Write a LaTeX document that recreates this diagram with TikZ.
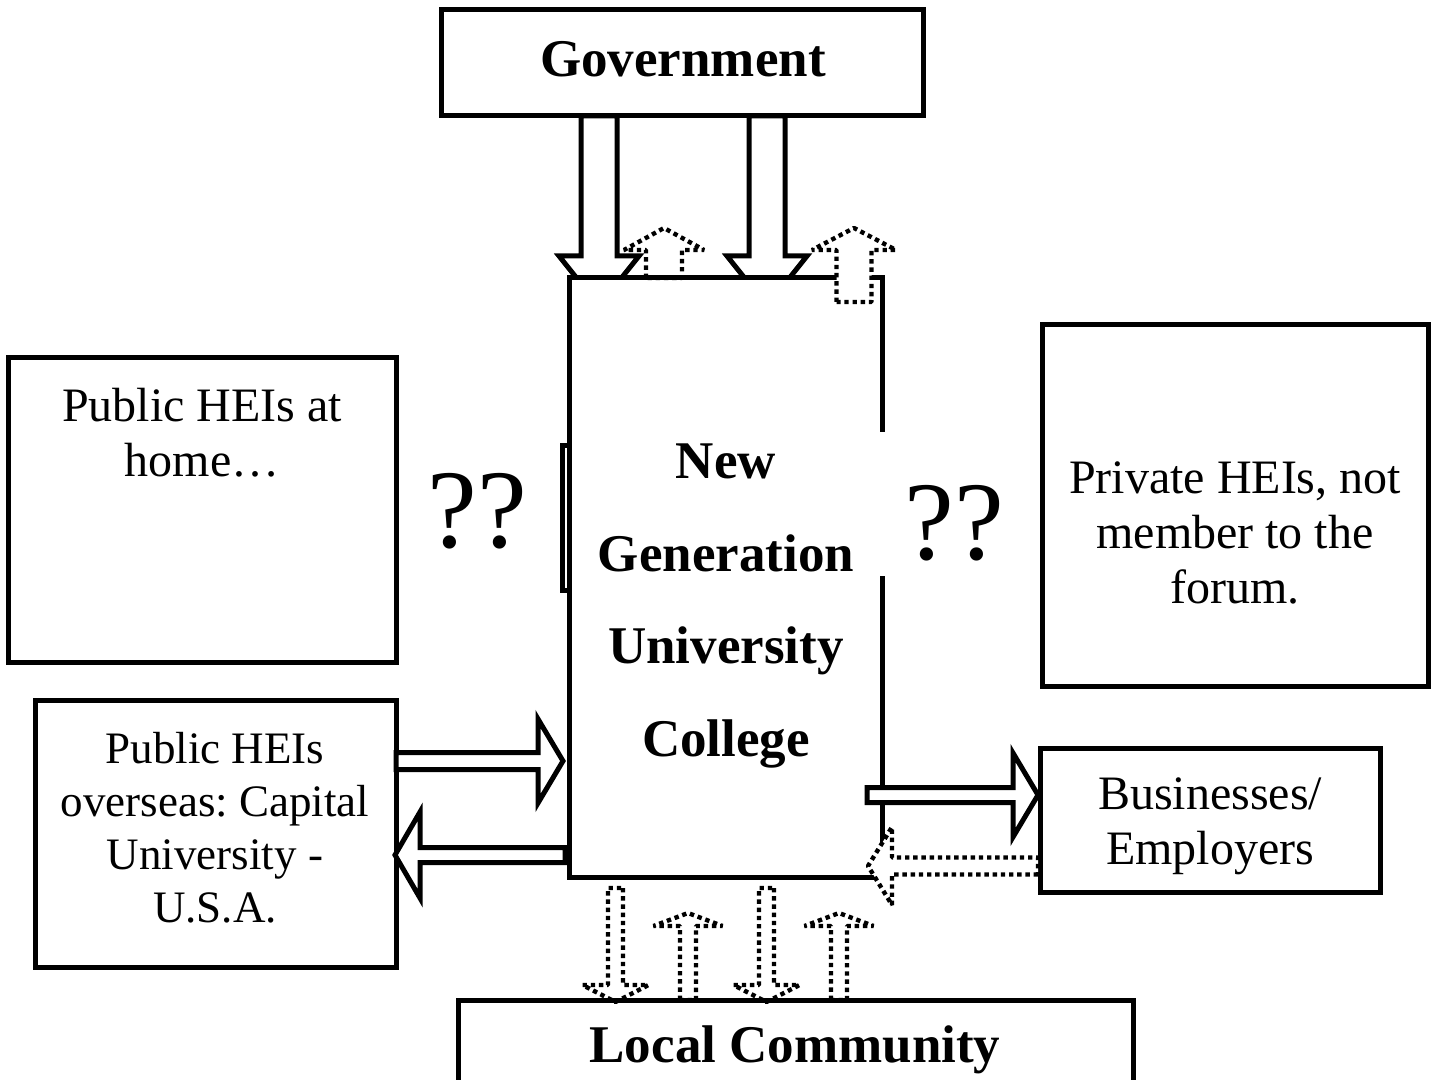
\documentclass[tikz,border=0pt]{standalone}
\usepackage{fontspec}
\setmainfont{Liberation Serif}
\usetikzlibrary{calc}
\tikzset{>=latex}
\tikzset{box/.style={draw, line width=2.5pt, inner sep=0pt, outer sep=0pt},
  hollow/.style={draw, fill=white, line width=2.5pt},
  dotarrow/.style={draw, line width=2.2pt, line join=bevel, dash pattern=on 2.2pt off 1.9pt},
  txt/.style={inner sep=0pt, align=center, font=\frenchspacing\fontsize{24}{27.5}\selectfont},
  bigtxt/.style={inner sep=0pt, align=center, font=\bfseries\fontsize{26.5}{46.25}\selectfont},
  query/.style={inner sep=0pt, font=\fontsize{56}{60}\selectfont}}
% block arrow: [style]{from}{to}{half shaft}{half head}{head length}
\newcommand{\fatarrow}[6][]{%
  \coordinate (fa-k) at ($(#3)!#6!(#2)$);
  \draw[#1] ($(#2)!#4!90:(#3)$) -- ($(fa-k)!#4!90:(#3)$) -- ($(fa-k)!#5!90:(#3)$) -- (#3)
    -- ($(fa-k)!#5!-90:(#3)$) -- ($(fa-k)!#4!-90:(#3)$) -- ($(#2)!#4!-90:(#3)$) -- cycle;}

\begin{document}
\begin{tikzpicture}[x=0.5pt, y=-0.5pt]
\useasboundingbox (0,0) rectangle (1435,1080);

\node[box, minimum width=241pt, minimum height=53pt] (gov) at (682,63) {};
\node[box, minimum width=194pt, minimum height=152pt] (home) at (202,510) {};
\node[box, minimum width=180.5pt, minimum height=133.5pt] (overseas) at (215.5,833.5) {};
\node[box, minimum width=193pt, minimum height=180.5pt] (private) at (1235,505.5) {};
\node[box, minimum width=170pt, minimum height=72pt] (business) at (1210,820) {};
\node[box, minimum width=337.5pt, minimum height=60pt] (local) at (795.5,1060) {};
\node[inner sep=0pt, outer sep=0pt, minimum width=156.5pt, minimum height=299.5pt] (ngu) at (725.5,577.5) {};

\node[bigtxt] (gov-t) at (683,59) {Government};
\node[txt] (home-t) at (202,433) {Public HEIs at\\home…};
\node[txt, font=\frenchspacing\fontsize{22.5}{26.5}\selectfont] (overseas-t) at (215,828) {Public HEIs\\overseas: Capital\\University -\\U.S.A.};
\node[txt] (private-t) at (1235,533) {Private HEIs, not\\member to the\\forum.};
\node[txt] (business-t) at (1210,826) {Businesses/\\Employers};
\node[bigtxt] (local-t) at (795,1050) {Local Community};

\coordinate (g1a) at ($(gov.south)+(-83,0)$);
\coordinate (g1b) at ($(ngu.north)+(-126.5,28)$);
\coordinate (g2a) at ($(gov.south)+(85,0)$);
\coordinate (g2b) at ($(ngu.north)+(41.5,28)$);
\coordinate (u1a) at ($(ngu.north)+(-61.5,0)$);
\coordinate (u1b) at ($(ngu.north)+(-61.5,-50)$);
\coordinate (u2a) at ($(ngu.north east)+(-28,24)$);
\coordinate (u2b) at ($(ngu.north east)+(-28,-50)$);
\coordinate (o1a) at ($(overseas.east)+(0,-72.5)$);
\coordinate (o1b) at ($(ngu.west)+(-6,183.5)$);
\coordinate (o2a) at ($(ngu.west)+(-4,277.5)$);
\coordinate (o2b) at ($(overseas.east)+(-1,21.5)$);
\coordinate (b1a) at ($(ngu.east)+(-15,217.5)$);
\coordinate (b1b) at ($(business.west)+(-2,-25)$);
\coordinate (b2a) at ($(business.west)+(-2,46)$);
\coordinate (b2b) at ($(ngu.east)+(-14,288.5)$);
\coordinate (d1a) at ($(ngu.south)+(-110,11)$);
\coordinate (d1b) at ($(local.north)+(-180,2)$);
\coordinate (l1a) at ($(local.north)+(-107.5,0)$);
\coordinate (l1b) at ($(ngu.south)+(-37.5,36)$);
\coordinate (d2a) at ($(ngu.south)+(41,11)$);
\coordinate (d2b) at ($(local.north)+(-29,2)$);
\coordinate (l2a) at ($(local.north)+(43.5,0)$);
\coordinate (l2b) at ($(ngu.south)+(113.5,36)$);

% government arrows, cut by the college box
\fatarrow[hollow]{g1a}{g1b}{9pt}{20pt}{25pt}
\fatarrow[hollow]{g2a}{g2b}{9pt}{20pt}{25pt}
\fill[white] (ngu.north west) rectangle (ngu.south east);
\fatarrow[dotarrow, fill=white]{u1a}{u1b}{9pt}{20pt}{11pt}
\draw[line width=2.5pt] ($(ngu.north east)+(0,154)$) -- (ngu.north east) -- (ngu.north west)
  -- (ngu.south west) -- (ngu.south east) -- ($(ngu.south east)+(0,-301)$);
\draw[line width=2.5pt] (562.5,445.5) rectangle (569,590.5);
\fatarrow[dotarrow, fill=white]{u2a}{u2b}{8.75pt}{21pt}{11pt}

\node[bigtxt] (ngu-t) at (726,606) {New\\Generation\\University\\College};
\node[query] (q1) at (477.5,511.5) {??};
\node[query] (q2) at (954,523.5) {??};

\fatarrow[hollow]{o1a}{o1b}{4.25pt}{21pt}{12.5pt}
\fatarrow[hollow]{o2a}{o2b}{3.75pt}{21.5pt}{12.5pt}
\fatarrow[hollow]{b1a}{b1b}{3.75pt}{21pt}{12.5pt}
\fatarrow[dotarrow, fill=white]{b2a}{b2b}{4.25pt}{19.5pt}{12pt}

\fatarrow[dotarrow]{d1a}{d1b}{3.75pt}{16.5pt}{8.5pt}
\fatarrow[dotarrow]{l1a}{l1b}{4pt}{17.25pt}{6.5pt}
\fatarrow[dotarrow]{d2a}{d2b}{3.75pt}{16.5pt}{8.5pt}
\fatarrow[dotarrow]{l2a}{l2b}{4pt}{17.25pt}{6.5pt}
\end{tikzpicture}
\end{document}
